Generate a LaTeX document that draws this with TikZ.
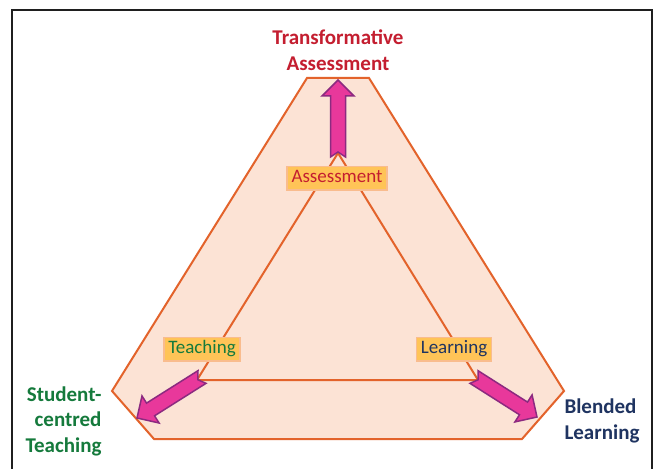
\documentclass[tikz,border=0pt]{standalone}
\usepackage{fontspec}
\setmainfont{Carlito}
\usetikzlibrary{calc}
\definecolor{hexfill}{HTML}{FCE3D5}
\definecolor{edgeorange}{HTML}{E3632B}
\definecolor{tagfill}{HTML}{FFC457}
\definecolor{tagedge}{HTML}{F9BC8E}
\definecolor{assessred}{HTML}{C41E30}
\definecolor{teachgreen}{HTML}{157A3C}
\definecolor{learnnavy}{HTML}{1F3461}
\definecolor{arrowpink}{HTML}{E8389B}
\definecolor{arrowpurple}{HTML}{8C2A80}
\tikzset{
  hexline/.style={line width=2pt, color=edgeorange, line join=miter},
  tagbox/.style={fill=tagfill, draw=tagedge, line width=1.5pt, font=\fontsize{19}{21}\selectfont,
    inner xsep=4.5pt, inner ysep=4pt, text height=12.5pt, text depth=3pt},
  biglabel/.style={font=\fontsize{21}{25.5}\selectfont\bfseries},
  pinkarrow/.style={fill=arrowpink, draw=arrowpurple, line width=1.5pt, line join=miter},
}
\newcommand\fatarrow[2]{%
  \coordinate (#1-base) at ($(#2)!16pt!(#1)$);
  \draw[pinkarrow] ($(#1)!7.5pt!90:(#2)$) -- ($(#1-base)!7.5pt!90:(#2)$) -- ($(#1-base)!16pt!90:(#2)$)
    -- (#2) -- ($(#1-base)!16pt!-90:(#2)$) -- ($(#1-base)!7.5pt!-90:(#2)$) -- ($(#1)!7.5pt!-90:(#2)$)
    -- ($(#1)!5pt!(#2)$) -- cycle;}

\begin{document}
\begin{tikzpicture}[x=1pt,y=-1pt]
		%%%%% START %%%%%
		\useasboundingbox (0,0) rectangle (660,468);
		\fill[white] (0,0) rectangle (660,468);
		\draw[line width=2.5pt, color=black!88] (12,475) -- (12,10) -- (652,10) -- (652,475);
		
		\coordinate (hexTL) at (307,78);
		\coordinate (hexTR) at (369,78);
		\coordinate (hexR) at (564,391);
		\coordinate (hexBR) at (522,439);
		\coordinate (hexBL) at (154,439);
		\coordinate (hexL) at (112,391);
		\draw[hexline, fill=hexfill] (hexTL) -- (hexTR) -- (hexR) -- (hexBR) -- (hexBL) -- (hexL) -- cycle;
		
		\coordinate (triA) at (338,153);
		\coordinate (triT) at (197,380);
		\coordinate (triL) at (478,380);
		\draw[hexline] (triA) -- (triT) -- (triL) -- cycle;
		
		\coordinate (tailA) at (338,157);
		\coordinate (tipA) at (338,80);
		\coordinate (tailT) at (202,377);
		\coordinate (tipT) at (137,418);
		\coordinate (tailL) at (474,377);
		\coordinate (tipL) at (537,417);
		\fatarrow{tailA}{tipA}
		\fatarrow{tailT}{tipT}
		\fatarrow{tailL}{tipL}
		
		\node[tagbox, text=assessred] (tagA) at (337,178) {Assessment};
		\node[tagbox, text=teachgreen] (tagT) at (202,349) {Teaching};
		\node[tagbox, text=learnnavy] (tagL) at (454,349) {Learning};
		
		\node[biglabel, text=assessred, align=center] (goalA) at (338,50) {Transformative\\Assessment};
		\node[biglabel, text=teachgreen, align=right, anchor=east] (goalT) at (105,421) {Student-\\centred\\Teaching};
		\node[biglabel, text=learnnavy, align=left, anchor=west] (goalL) at (561,421) {Blended\\Learning};
		
		%%%%% END %%%%%
\end{tikzpicture}
\end{document}
